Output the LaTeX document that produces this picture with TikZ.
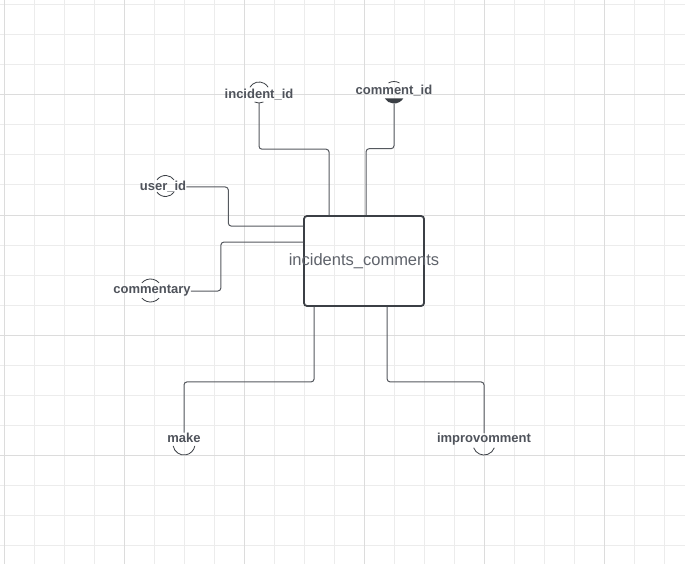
\documentclass[tikz,border=0pt]{standalone}
\usepackage{fontspec}
\setmainfont{Liberation Sans}
\usetikzlibrary{calc}
\definecolor{gridminor}{HTML}{ECECEC}
\definecolor{gridmajor}{HTML}{DCDCDC}
\definecolor{linec}{HTML}{55595F}
\definecolor{boxc}{HTML}{3B3F45}
\definecolor{attrc}{HTML}{4F535B}
\definecolor{labc}{HTML}{5F636B}
\tikzset{
  conn/.style={draw=linec, line width=1pt, rounded corners=3pt},
  attrtext/.style={inner sep=0pt, text=attrc, font=\bfseries\fontsize{13}{15}\selectfont},
  attrcirc/.style={circle, inner sep=0pt, minimum size=#1},
  attrarc/.style={draw=boxc, line width=0.8pt},
  entbox/.style={draw=boxc, line width=1.8pt, rounded corners=3pt, minimum width=120pt, minimum height=90pt, inner sep=0pt},
  entlabel/.style={inner sep=0pt, text=labc, font=\fontsize{16.5}{19}\selectfont}
}
\begin{document}
\begin{tikzpicture}[x=1pt,y=-1pt]
\useasboundingbox (0,0) rectangle (685,564);
\fill[white] (0,0) rectangle (685,564);
% grid
\foreach \i in {0,...,22} {\draw[gridminor, line width=1pt] (4.5+30*\i,0) -- (4.5+30*\i,564);}
\foreach \j in {0,...,18} {\draw[gridminor, line width=1pt] (0,5+30*\j) -- (685,5+30*\j);}
\foreach \i in {0,...,5} {\draw[gridmajor, line width=1pt] (4.5+120*\i,0) -- (4.5+120*\i,564);}
\foreach \j in {0,...,3} {\draw[gridmajor, line width=1pt] (0,95+120*\j) -- (685,95+120*\j);}

% entity
\node[entbox] (ent) at (364,261) {};
\node[entlabel] (entLabel) at (364,261) {incidents\_comments};

% attribute circles (invisible helpers)
\node[attrcirc=21pt] (cInc) at (259,92.5) {};
\node[attrcirc=22pt] (cCom) at (394,92.5) {};
\node[attrcirc=21pt] (cUser) at (165.5,186) {};
\node[attrcirc=23pt] (cComm) at (150.5,290.5) {};
\node[attrcirc=22pt] (cMake) at (184,444) {};
\node[attrcirc=22pt] (cImp) at (484,444) {};

% attribute arcs
\draw[attrarc] ([shift={(150:10.5pt)}]cInc.center) arc[start angle=150,end angle=30,radius=10.5pt];
\draw[attrarc] ([shift={(245:10.5pt)}]cInc.center) arc[start angle=245,end angle=295,radius=10.5pt];
\draw[attrarc] ([shift={(120:11pt)}]cCom.center) arc[start angle=120,end angle=60,radius=11pt];
\fill[boxc] ([shift={(-33:11pt)}]cCom.center) arc[start angle=-33,end angle=-147,radius=11pt] -- cycle;
\draw[attrarc] ([shift={(144:10.5pt)}]cUser.center) arc[start angle=144,end angle=36,radius=10.5pt];
\draw[attrarc] ([shift={(216:10.5pt)}]cUser.center) arc[start angle=216,end angle=324,radius=10.5pt];
\draw[attrarc] ([shift={(138:11.5pt)}]cComm.center) arc[start angle=138,end angle=42,radius=11.5pt];
\draw[attrarc] ([shift={(222:11.5pt)}]cComm.center) arc[start angle=222,end angle=318,radius=11.5pt];
\draw[attrarc] ([shift={(190:11pt)}]cMake.center) arc[start angle=190,end angle=350,radius=11pt];
\draw[attrarc] ([shift={(200:11pt)}]cImp.center) arc[start angle=200,end angle=340,radius=11pt];

% attribute texts
\node[attrtext] (tInc) at (259,95) {incident\_id};
\node[attrtext] (tCom) at (394,91) {comment\_id};
\node[attrtext] (tUser) at (163,187) {user\_id};
\node[attrtext] (tComm) at (152,291) {commentary};
\node[attrtext] (tMake) at (184,437.5) {make};
\node[attrtext] (tImp) at (484,439.5) {improvomment};

% connectors
\draw[conn] (cInc.south) -- ++(0,46) -| ([xshift=26pt]ent.north west);
\draw[conn] (cCom.south) -- ++(0,45) -| ([xshift=63pt]ent.north west);
\draw[conn] (tUser.east) -- ++(42,0) |- ([yshift=-11pt]ent.north west);
\draw[conn] (tComm.east) -- ++(30,0) |- ([yshift=-27pt]ent.north west);
\draw[conn] ([xshift=11pt]ent.south west) -- ++(0,75) -| (tMake.north);
\draw[conn] ([xshift=84pt]ent.south west) -- ++(0,75) -| (tImp.north);
\end{tikzpicture}
\end{document}
